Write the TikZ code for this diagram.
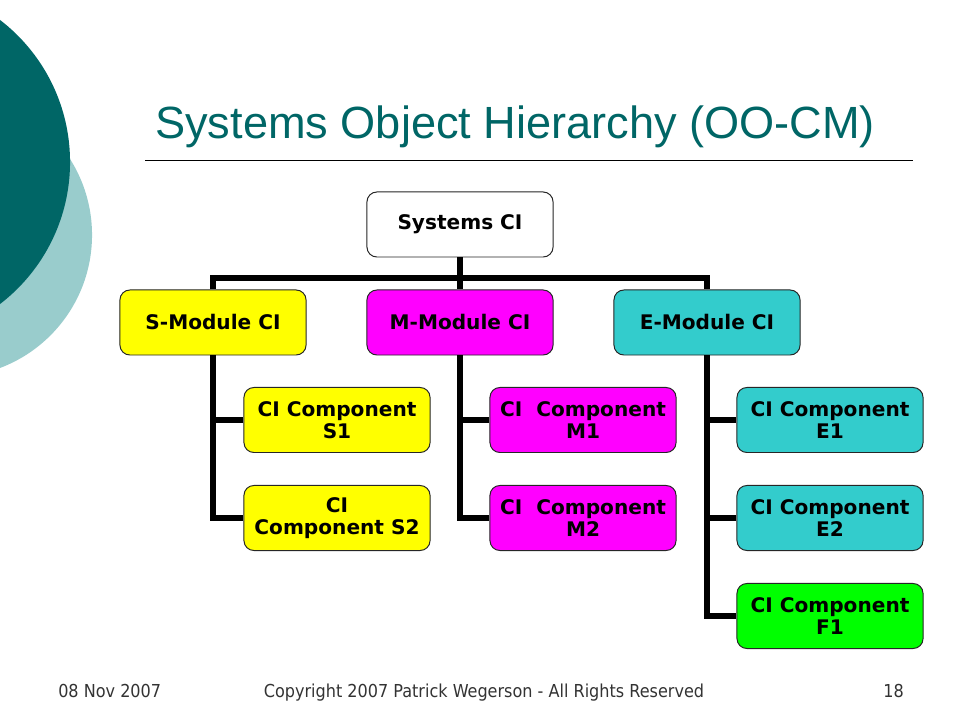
\documentclass[tikz,border=0pt]{standalone}
\usepackage{fontspec}
\usepackage{tikz}
\setmainfont{DejaVu Sans}
\newfontfamily\titlefont{Liberation Sans}
\newfontfamily\footfont{DejaVu Sans Condensed}

\definecolor{darkteal}{HTML}{006666}
\definecolor{paleteal}{HTML}{99CCCC}
\definecolor{ciyellow}{HTML}{FFFF00}
\definecolor{cimagenta}{HTML}{FF00FF}
\definecolor{cicyan}{HTML}{33CCCC}
\definecolor{cigreen}{HTML}{00FF00}

\tikzset{
	ci/.style={shape=rectangle, draw=black!85, line width=0.7pt, rounded corners=7pt,
		minimum width=4.65cm, minimum height=1.625cm, align=center,
		font=\bfseries\fontsize{14.3}{15.6}\selectfont},
	branch/.style={-, line width=4.3pt, black},
	foot/.style={inner sep=0pt, anchor=base, text=black!80,
		font=\footfont\fontsize{12.7}{14}\selectfont},
}

\begin{document}
\begin{tikzpicture}[x=0.025cm, y=-0.025cm]

	\useasboundingbox (0,0) rectangle (960,720);

	% circles on the left edge
	\begin{scope}
		\clip (0,0) rectangle (960,720);
		\fill[paleteal] (-50,235) circle (3.55cm);
		\fill[darkteal] (-109,162) circle (4.475cm);
	\end{scope}

	% title
	\node[anchor=base west, inner sep=0pt, text=darkteal,
		font=\titlefont\fontsize{32.1}{40}\selectfont] (title) at (155,139) {Systems Object Hierarchy (OO-CM)};
	\coordinate (ruleL) at (145,160);
	\coordinate (ruleR) at (913,160);
	\draw[line width=0.7pt] (ruleL) -- (ruleR);

	% hierarchy
	\node[ci, fill=white]     (sys)  at (460,224.5) {Systems CI};
	\node[ci, fill=ciyellow]  (smod) at (213,322.5) {S-Module CI};
	\node[ci, fill=cimagenta] (mmod) at (460,322.5) {M-Module CI};
	\node[ci, fill=cicyan]    (emod) at (707,322.5) {E-Module CI};

	\node[ci, fill=ciyellow]  (s1) at (337,420) {CI Component\\S1};
	\node[ci, fill=ciyellow]  (s2) at (337,518) {CI\\Component S2};
	\node[ci, fill=cimagenta] (m1) at (583,420) {CI\ \ Component\\M1};
	\node[ci, fill=cimagenta] (m2) at (583,518) {CI\ \ Component\\M2};
	\node[ci, fill=cicyan]    (e1) at (830,420) {CI Component\\E1};
	\node[ci, fill=cicyan]    (e2) at (830,518) {CI Component\\E2};
	\node[ci, fill=cigreen]   (f1) at (830,616) {CI Component\\F1};

	\coordinate (bar) at (460,278);

	\draw[branch] (sys.south) -- (mmod.north);
	\draw[branch] (smod.north) |- (bar) -| (emod.north);

	\draw[branch] (s1.west) -| (smod.south);
	\draw[branch] (s2.west) -| (smod.south);
	\draw[branch] (m1.west) -| (mmod.south);
	\draw[branch] (m2.west) -| (mmod.south);
	\draw[branch] (e1.west) -| (emod.south);
	\draw[branch] (e2.west) -| (emod.south);
	\draw[branch] (f1.west) -| (emod.south);

	% footer
	\node[foot, anchor=base west] (date) at (58,697)  {08 Nov 2007};
	\node[foot]                   (copy) at (484,697) {Copyright 2007 Patrick Wegerson - All Rights Reserved};
	\node[foot, anchor=base west] (page) at (883,697) {18};

\end{tikzpicture}
\end{document}
